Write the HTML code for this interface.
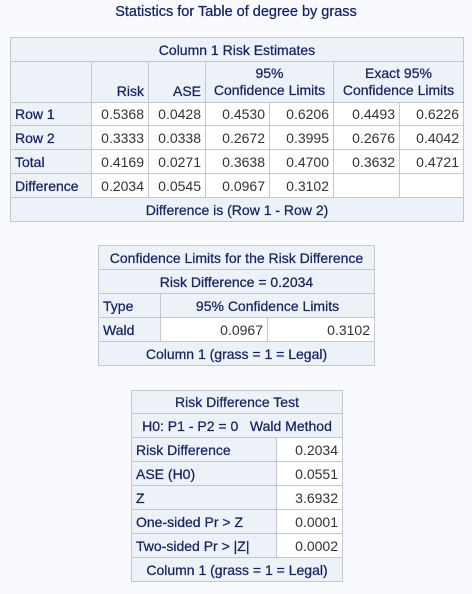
<!DOCTYPE html>
<html><head><meta charset="utf-8"><style>
html,body{margin:0;padding:0;background:#f9fafe;width:472px;height:594px;overflow:hidden;font-family:"Liberation Sans",sans-serif;}
.c{position:absolute;box-sizing:border-box;border:1px solid #c3c8cf;display:flex;align-items:center;padding:0 4px;font-size:14px;white-space:nowrap;}
.h{background:#edf2f9;color:#15225e;-webkit-text-stroke:0.25px #15225e;}
.d{background:#ffffff;color:#333;justify-content:flex-end;}
.ctr{justify-content:center;}
.r{justify-content:flex-end;}
.t{position:absolute;left:0;width:472px;top:4px;text-align:center;font-size:14.5px;color:#15225e;-webkit-text-stroke:0.25px #15225e;}
</style></head><body>
<div class="t">Statistics for Table of degree by grass</div>

<div>
<div class="c h ctr" style="left:10px;top:37px;width:454px;height:25px">Column 1 Risk Estimates</div>
<div class="c h" style="left:10px;top:61px;width:82px;height:42px"></div>
<div class="c h r" style="left:91px;top:61px;width:58px;height:42px;align-items:flex-end;padding-bottom:3px">Risk</div>
<div class="c h r" style="left:148px;top:61px;width:58px;height:42px;align-items:flex-end;padding-bottom:3px">ASE</div>
<div class="c h ctr" style="left:205px;top:61px;width:129px;height:42px;flex-direction:column;line-height:17px;padding:0"><span>95%</span><span>Confidence Limits</span></div>
<div class="c h ctr" style="left:333px;top:61px;width:131px;height:42px;flex-direction:column;line-height:17px;padding:0"><span>Exact 95%</span><span>Confidence Limits</span></div>

<div class="c h" style="left:10px;top:102px;width:82px;height:24px">Row 1</div>
<div class="c d" style="left:91px;top:102px;width:58px;height:24px">0.5368</div>
<div class="c d" style="left:148px;top:102px;width:58px;height:24px">0.0428</div>
<div class="c d" style="left:205px;top:102px;width:65px;height:24px">0.4530</div>
<div class="c d" style="left:269px;top:102px;width:65px;height:24px">0.6206</div>
<div class="c d" style="left:333px;top:102px;width:67px;height:24px">0.4493</div>
<div class="c d" style="left:399px;top:102px;width:65px;height:24px">0.6226</div>

<div class="c h" style="left:10px;top:125px;width:82px;height:25px">Row 2</div>
<div class="c d" style="left:91px;top:125px;width:58px;height:25px">0.3333</div>
<div class="c d" style="left:148px;top:125px;width:58px;height:25px">0.0338</div>
<div class="c d" style="left:205px;top:125px;width:65px;height:25px">0.2672</div>
<div class="c d" style="left:269px;top:125px;width:65px;height:25px">0.3995</div>
<div class="c d" style="left:333px;top:125px;width:67px;height:25px">0.2676</div>
<div class="c d" style="left:399px;top:125px;width:65px;height:25px">0.4042</div>

<div class="c h" style="left:10px;top:149px;width:82px;height:25px">Total</div>
<div class="c d" style="left:91px;top:149px;width:58px;height:25px">0.4169</div>
<div class="c d" style="left:148px;top:149px;width:58px;height:25px">0.0271</div>
<div class="c d" style="left:205px;top:149px;width:65px;height:25px">0.3638</div>
<div class="c d" style="left:269px;top:149px;width:65px;height:25px">0.4700</div>
<div class="c d" style="left:333px;top:149px;width:67px;height:25px">0.3632</div>
<div class="c d" style="left:399px;top:149px;width:65px;height:25px">0.4721</div>

<div class="c h" style="left:10px;top:173px;width:82px;height:25px">Difference</div>
<div class="c d" style="left:91px;top:173px;width:58px;height:25px">0.2034</div>
<div class="c d" style="left:148px;top:173px;width:58px;height:25px">0.0545</div>
<div class="c d" style="left:205px;top:173px;width:65px;height:25px">0.0967</div>
<div class="c d" style="left:269px;top:173px;width:65px;height:25px">0.3102</div>
<div class="c d" style="left:333px;top:173px;width:67px;height:25px"></div>
<div class="c d" style="left:399px;top:173px;width:65px;height:25px"></div>

<div class="c h ctr" style="left:10px;top:197px;width:454px;height:25px">Difference is (Row 1 - Row 2)</div>
</div>

<div>
<div class="c h ctr" style="left:98px;top:245px;width:277px;height:25px">Confidence Limits for the Risk Difference</div>
<div class="c h ctr" style="left:98px;top:269px;width:277px;height:25px">Risk Difference = 0.2034</div>
<div class="c h" style="left:98px;top:293px;width:63px;height:25px">Type</div>
<div class="c h ctr" style="left:160px;top:293px;width:215px;height:25px">95% Confidence Limits</div>
<div class="c h" style="left:98px;top:317px;width:63px;height:25px">Wald</div>
<div class="c d" style="left:160px;top:317px;width:108px;height:25px">0.0967</div>
<div class="c d" style="left:267px;top:317px;width:108px;height:25px">0.3102</div>
<div class="c h ctr" style="left:98px;top:341px;width:277px;height:25px">Column 1 (grass = 1 = Legal)</div>
</div>

<div>
<div class="c h ctr" style="left:131px;top:390px;width:212px;height:24px">Risk Difference Test</div>
<div class="c h ctr" style="left:131px;top:413px;width:212px;height:25px">H0: P1 - P2 = 0&nbsp;&nbsp;&nbsp;Wald Method</div>
<div class="c h" style="left:131px;top:437px;width:146px;height:25px">Risk Difference</div>
<div class="c d" style="left:276px;top:437px;width:67px;height:25px">0.2034</div>
<div class="c h" style="left:131px;top:461px;width:146px;height:25px">ASE (H0)</div>
<div class="c d" style="left:276px;top:461px;width:67px;height:25px">0.0551</div>
<div class="c h" style="left:131px;top:485px;width:146px;height:25px">Z</div>
<div class="c d" style="left:276px;top:485px;width:67px;height:25px">3.6932</div>
<div class="c h" style="left:131px;top:509px;width:146px;height:25px">One-sided Pr &gt; Z</div>
<div class="c d" style="left:276px;top:509px;width:67px;height:25px">0.0001</div>
<div class="c h" style="left:131px;top:533px;width:146px;height:25px">Two-sided Pr &gt; |Z|</div>
<div class="c d" style="left:276px;top:533px;width:67px;height:25px">0.0002</div>
<div class="c h ctr" style="left:131px;top:557px;width:212px;height:25px">Column 1 (grass = 1 = Legal)</div>
</div>
</body></html>
